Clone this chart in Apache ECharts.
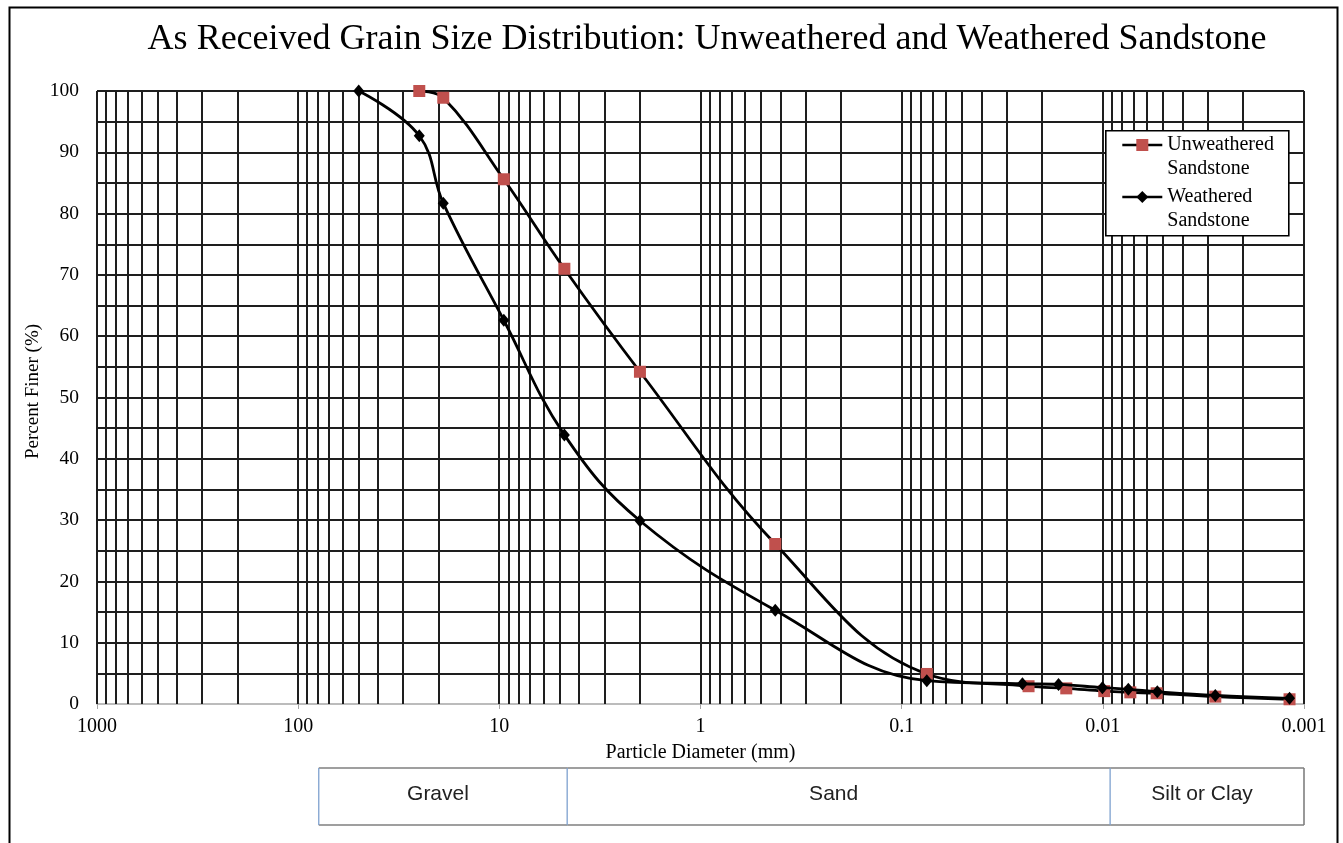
<!DOCTYPE html>
<html><head><meta charset="utf-8">
<script src="https://cdn.jsdelivr.net/npm/echarts@6/dist/echarts.min.js"></script>
<style>html,body{margin:0;padding:0;background:#fff}#c{width:1343px;height:843px}</style>
</head><body><div id="c"></div>
<script>
const titleText = 'As Received Grain Size Distribution: Unweathered and Weathered Sandstone';
const xAxisName = 'Particle Diameter (mm)';
const yAxisName = 'Percent Finer (%)';
const seriesNames = ['Unweathered\nSandstone', 'Weathered\nSandstone'];
const unweatheredSize = [25, 19, 9.5, 4.75, 2, 0.425, 0.075, 0.0234, 0.0152, 0.00984, 0.0073, 0.0054, 0.00276, 0.00118];
const unweatheredFiner = [100, 98.9, 85.6, 71.0, 54.2, 26.1, 4.9, 2.9, 2.55, 2.1, 1.9, 1.75, 1.2, 0.77];
const weatheredSize = [50, 25, 19, 9.5, 4.75, 2, 0.425, 0.075, 0.0251, 0.0166, 0.01005, 0.00747, 0.00536, 0.00276, 0.00118];
const weatheredFiner = [100, 92.7, 81.7, 62.6, 43.9, 29.9, 15.3, 3.8, 3.3, 3.2, 2.66, 2.4, 2.0, 1.4, 0.93];
const xTickLabels = ['0.001', '0.01', '0.1', '1', '10', '100', '1000'];
const zoneNames = ['Gravel', 'Sand', 'Silt or Clay'];
const zoneFrom = [79, 4.6, 0.0092];
const zoneTo = [4.6, 0.0092, 0.001];

// log grid values (1..9 within each decade, plus the top end)
const logGridX = [];
for (let k = -3; k <= 2; k++) for (let m = 1; m <= 9; m++) logGridX.push(+(m * Math.pow(10, k)).toPrecision(6));
logGridX.push(1000);

const serif = '"Liberation Serif", "Times New Roman", serif';
const gridColor = '#1e1e1e';
const gridWidth = 2;

const chart = echarts.init(document.getElementById('c'), null, {renderer: 'canvas'});
chart.setOption({
  animation: false,
  backgroundColor: '#fff',
  title: {
    text: titleText, left: 707, top: 22, textAlign: 'center', padding: 0,
    textStyle: {fontFamily: serif, fontSize: 36, fontWeight: 'normal', color: '#000'}
  },
  grid: [
    {left: 97, right: 39, top: 91, bottom: 139},
    {left: 97, right: 39, top: 768, height: 57}
  ],
  xAxis: [{
    type: 'log', logBase: 10, min: 0.001, max: 1000, inverse: true, gridIndex: 0,
    name: xAxisName, nameLocation: 'middle', nameGap: 39, nameMoveOverlap: false,
    nameTextStyle: {fontFamily: serif, fontSize: 20, color: '#000'},
    axisLine: {show: true, lineStyle: {color: '#a6a6a6', width: 1.5}},
    axisTick: {show: true, length: 5, lineStyle: {color: '#a6a6a6', width: 1}},
    axisLabel: {fontFamily: serif, fontSize: 20, color: '#000', margin: 13,
      formatter: v => xTickLabels[Math.round(Math.log10(v)) + 3]},
    splitLine: {show: false}
  }, {
    type: 'log', logBase: 10, min: 0.001, max: 1000, inverse: true, gridIndex: 1, show: false
  }],
  yAxis: [{
    type: 'value', min: 0, max: 100, interval: 10, gridIndex: 0,
    name: yAxisName, nameLocation: 'middle', nameGap: 54, nameRotate: 90, nameMoveOverlap: false,
    nameTextStyle: {fontFamily: serif, fontSize: 19, color: '#000', padding: [0, 0, 0, 12]},
    axisLine: {show: false}, axisTick: {show: false},
    axisLabel: {fontFamily: serif, fontSize: 19.5, color: '#000', margin: 18},
    splitLine: {show: true, showMinLine: false, showMaxLine: true, lineStyle: {color: gridColor, width: gridWidth}},
    minorTick: {show: false, splitNumber: 2},
    minorSplitLine: {show: true, lineStyle: {color: gridColor, width: gridWidth}}
  }, {
    type: 'value', min: 0, max: 1, gridIndex: 1, show: false
  }],
  legend: {
    data: seriesNames, orient: 'vertical', left: 1121, top: 109, padding: 0,
    itemWidth: 40, itemHeight: 15, itemGap: -20, z: 20,
    lineStyle: {width: 2.6},
    formatter: n => '\n' + n,
    textStyle: {fontFamily: serif, fontSize: 20, lineHeight: 24, color: '#000'}
  },
  graphic: [
    {type: 'rect', left: 7, top: 5, shape: {width: 1328, height: 860}, z: 0,
      style: {fill: 'none', stroke: '#000', lineWidth: 2}},
    {type: 'rect', left: 1105, top: 130, shape: {width: 183, height: 105}, z: 15,
      style: {fill: '#fff', stroke: '#000', lineWidth: 1.6}}
  ],
  series: [
    {
      name: 'log-grid', type: 'custom', xAxisIndex: 0, yAxisIndex: 0, z: 1, silent: true,
      encode: {x: 0, y: 1},
      data: logGridX.map(v => [v, 50]),
      renderItem: (params, api) => {
        const cs = params.coordSys;
        const x = Math.round(api.coord([api.value(0), 50])[0]);
        return {type: 'line', shape: {x1: x, y1: cs.y, x2: x, y2: cs.y + cs.height},
          style: {stroke: gridColor, lineWidth: gridWidth}};
      }
    },
    {
      name: seriesNames[0], type: 'line', xAxisIndex: 0, yAxisIndex: 0, z: 3,
      data: unweatheredSize.map((s, i) => [s, unweatheredFiner[i]]),
      smooth: 0.4, symbol: 'rect', symbolSize: 12,
      itemStyle: {color: '#c0504d'},
      lineStyle: {color: '#000', width: 2.8}
    },
    {
      name: seriesNames[1], type: 'line', xAxisIndex: 0, yAxisIndex: 0, z: 4,
      data: weatheredSize.map((s, i) => [s, weatheredFiner[i]]),
      smooth: 0.4, symbol: 'diamond', symbolSize: [11, 13],
      itemStyle: {color: '#000'},
      lineStyle: {color: '#000', width: 2.8}
    },
    {
      name: 'zones', type: 'custom', xAxisIndex: 1, yAxisIndex: 1, silent: true,
      encode: {x: [0, 1], y: 2},
      data: zoneFrom.map((f, i) => [f, zoneTo[i], 0.5]),
      renderItem: (params, api) => {
        const a = api.coord([api.value(0), 1]);
        const b = api.coord([api.value(1), 0]);
        const x0 = a[0], y0 = a[1], x1 = b[0], y1 = b[1];
        const idx = params.dataIndex;
        const children = [
          {type: 'line', shape: {x1: x0, y1: y0, x2: x1, y2: y0}, style: {stroke: '#7f7f7f', lineWidth: 1.6}},
          {type: 'line', shape: {x1: x0, y1: y1, x2: x1, y2: y1}, style: {stroke: '#7f7f7f', lineWidth: 1.6}},
          {type: 'line', shape: {x1: x0, y1: y0, x2: x0, y2: y1}, style: {stroke: '#7ea1cf', lineWidth: 1.3}},
          {type: 'text', style: {text: zoneNames[idx], x: (x0 + x1) / 2 - 5, y: (y0 + y1) / 2 - 2,
            align: 'center', verticalAlign: 'middle', font: '21px "Liberation Sans", Arial, sans-serif', fill: '#222'}}
        ];
        if (idx === zoneNames.length - 1) {
          children.push({type: 'line', shape: {x1: x1, y1: y0, x2: x1, y2: y1}, style: {stroke: '#7f7f7f', lineWidth: 1.6}});
        }
        return {type: 'group', children};
      }
    }
  ]
});
</script>
</body></html>
